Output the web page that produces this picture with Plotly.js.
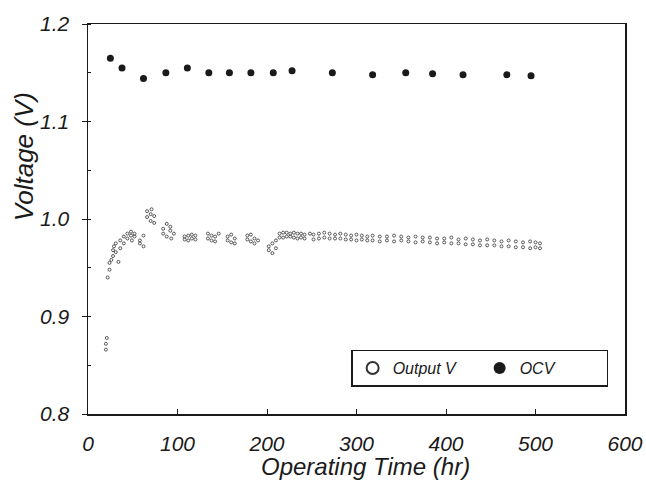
<!DOCTYPE html>
<html>
<head>
<meta charset="utf-8">
<script src="https://cdn.plot.ly/plotly-3.0.1.min.js"></script>
<style>html,body{margin:0;padding:0;background:#fff;}#chart{width:646px;height:484px;}</style>
</head>
<body>
<div id="chart"></div>
<script>
// OCV (filled circles)
var ocvTime = [25, 38, 62, 87, 111, 135, 158, 182, 207, 228, 273, 318, 355, 385, 419, 468, 495];
var ocvVolt = [1.165, 1.155, 1.144, 1.150, 1.155, 1.150, 1.150, 1.150, 1.150, 1.152, 1.150, 1.148, 1.150, 1.149, 1.148, 1.148, 1.147];

// Output V (open circles)
var outTime = [20, 20, 21, 22, 24, 24, 26, 28, 28, 29, 31, 31, 34, 36, 36, 40, 40, 44, 44, 48, 48, 49, 52, 52,
  58, 58, 62, 62, 66, 66, 70, 70, 71, 74, 74, 84, 84, 88, 88, 92, 92, 93, 96,
  108, 108, 112, 112, 116, 116, 120, 120, 134, 134, 138, 138, 142, 142, 146,
  156, 156, 160, 160, 164, 164, 178, 178, 182, 182, 186, 186, 190,
  202, 202, 206, 206, 210, 210, 214, 214, 218, 218, 222, 222, 226, 226, 230, 230, 234, 234, 238, 238, 242, 242, 248,
  252, 252, 258, 258, 264, 264, 270, 270, 276, 276, 282, 282, 288, 288, 294, 294, 300, 300, 306, 306, 312, 312, 318, 318,
  326, 326, 334, 334, 342, 342, 350, 350, 358, 358, 366, 366, 374, 374, 382, 382, 390, 390, 398, 398, 406, 406,
  414, 414, 422, 422, 430, 430, 438, 438, 446, 446, 454, 454, 462, 462, 470, 470, 478, 478, 486, 486, 494, 494, 500, 500, 505, 505];
var outVolt = [0.872, 0.866, 0.878, 0.940, 0.948, 0.955, 0.958, 0.962, 0.968, 0.972, 0.966, 0.975, 0.956, 0.970, 0.978, 0.975, 0.982, 0.980, 0.985, 0.983, 0.987, 0.978, 0.985, 0.982,
  0.978, 0.975, 0.983, 0.972, 1.002, 1.008, 1.005, 0.998, 1.010, 1.003, 0.996, 0.990, 0.985, 0.995, 0.982, 0.992, 0.988, 0.980, 0.985,
  0.982, 0.979, 0.983, 0.978, 0.984, 0.980, 0.983, 0.979, 0.985, 0.980, 0.983, 0.978, 0.982, 0.977, 0.985,
  0.982, 0.978, 0.984, 0.976, 0.980, 0.975, 0.983, 0.979, 0.984, 0.977, 0.980, 0.975, 0.978,
  0.972, 0.968, 0.975, 0.965, 0.978, 0.970, 0.985, 0.981, 0.986, 0.981, 0.986, 0.982, 0.985, 0.982, 0.986, 0.981, 0.985, 0.980, 0.985, 0.981, 0.984, 0.980, 0.985,
  0.984, 0.979, 0.985, 0.980, 0.986, 0.981, 0.985, 0.980, 0.984, 0.980, 0.985, 0.980, 0.984, 0.979, 0.983, 0.979, 0.984, 0.978, 0.983, 0.979, 0.982, 0.978, 0.983, 0.978,
  0.982, 0.977, 0.982, 0.978, 0.983, 0.977, 0.982, 0.978, 0.981, 0.977, 0.982, 0.976, 0.981, 0.977, 0.981, 0.976, 0.980, 0.975, 0.980, 0.976, 0.981, 0.975,
  0.979, 0.975, 0.980, 0.974, 0.979, 0.974, 0.978, 0.973, 0.979, 0.973, 0.978, 0.973, 0.977, 0.972, 0.978, 0.972, 0.977, 0.971, 0.976, 0.971, 0.977, 0.970, 0.976, 0.971, 0.975, 0.970];

var xTicks = [0, 100, 200, 300, 400, 500, 600];
var yTicks = [0.8, 0.9, 1.0, 1.1, 1.2];
var yTickText = ["0.8", "0.9", "1.0", "1.1", "1.2"];

var fam = '"Liberation Sans", Arial, sans-serif';
var ink = '#1a1a1a';

var traces = [
  {
    x: outTime, y: outVolt, name: 'Output V', type: 'scatter', mode: 'markers',
    marker: {symbol: 'circle-open', size: 3, color: '#333', line: {width: 0.8, color: '#333'}}
  },
  {
    x: ocvTime, y: ocvVolt, name: 'OCV', type: 'scatter', mode: 'markers',
    marker: {symbol: 'circle', size: 7, color: ink}
  }
];

var layout = {
  width: 646, height: 484,
  margin: {l: 88, r: 21, t: 24, b: 70},
  paper_bgcolor: '#fff', plot_bgcolor: '#fff',
  font: {family: fam, color: ink, style: 'italic'},
  showlegend: true,
  legend: {
    x: 0.49, y: 0.165, xanchor: 'left', yanchor: 'top',
    orientation: 'h', bordercolor: ink, borderwidth: 1.5, bgcolor: '#fff',
    font: {family: fam, size: 16, style: 'italic', color: ink},
    entrywidth: 82, itemsizing: 'constant'
  },
  xaxis: {
    range: [0, 600], tickvals: xTicks, ticks: 'inside', ticklen: 5, tickcolor: ink,
    showline: true, mirror: true, linecolor: ink, linewidth: 1.5,
    showgrid: false, zeroline: false,
    tickfont: {family: fam, size: 21, style: 'italic', color: ink},
    ticklabelstandoff: 10
  },
  yaxis: {
    range: [0.8, 1.2], tickvals: yTicks, ticktext: yTickText, ticks: 'outside', ticklen: 5, tickcolor: ink,
    minor: {dtick: 0.05, ticks: 'inside', ticklen: 3, tickcolor: ink},
    showline: true, mirror: true, linecolor: ink, linewidth: 1.5,
    showgrid: false, zeroline: false,
    tickfont: {family: fam, size: 21, style: 'italic', color: ink},
    ticklabelstandoff: 8
  },
  annotations: [{
    text: 'Voltage (V)', textangle: -90, xref: 'paper', yref: 'paper',
    x: -0.12, y: 0.66, xanchor: 'center', yanchor: 'middle', showarrow: false,
    font: {family: fam, size: 26, style: 'italic', color: ink}
  }, {
    text: 'Operating Time (hr)', xref: 'paper', yref: 'paper',
    x: 0.516, y: -0.175, xanchor: 'center', yanchor: 'bottom', showarrow: false,
    font: {family: fam, size: 24, style: 'italic', color: ink}
  }]
};

Plotly.newPlot('chart', traces, layout, {staticPlot: true, displayModeBar: false});
</script>
</body>
</html>
